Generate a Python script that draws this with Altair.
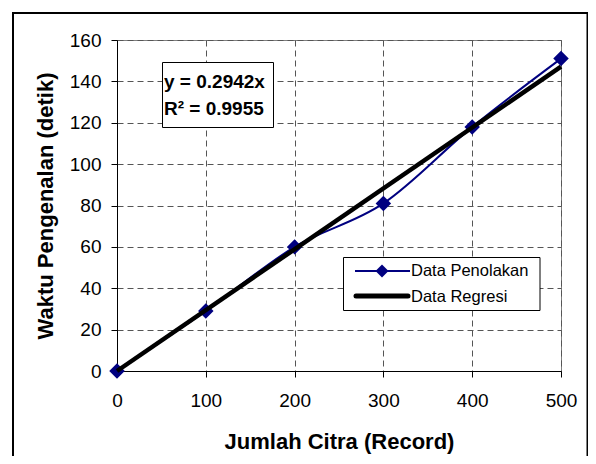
import altair as alt
import pandas as pd

# ---- data ----
records = [0, 100, 200, 300, 400, 500]
waktu = [0, 29, 60, 81, 118, 151]
reg_x = [0, 500]
reg_y = [0, 147.1]          # y = 0.2942x at the ends
x_ticks = [0, 100, 200, 300, 400, 500]
y_ticks = [0, 20, 40, 60, 80, 100, 120, 140, 160]
eq_lines = ["y = 0.2942x", "R² = 0.9955"]
legend_labels = ["Data Penolakan", "Data Regresi"]

FONT = "Liberation Sans"
NAVY = "#000080"

df = pd.DataFrame({"Record": records, "Waktu": waktu})
reg = pd.DataFrame({"Record": reg_x, "Waktu": reg_y})
one = alt.Data(values=[{"k": 1}])

X = alt.X(
    "Record:Q",
    scale=alt.Scale(domain=[0, 500], nice=False, zero=False),
    axis=alt.Axis(
        values=x_ticks, title="Jumlah Citra (Record)", format="d",
        labelBaseline="alphabetic", labelPadding=29, labelFlush=False,
        labelOverlap=False, titleY=77, titleBaseline="alphabetic",
    ),
)
Y = alt.Y(
    "Waktu:Q",
    scale=alt.Scale(domain=[0, 160], nice=False, zero=False),
    axis=alt.Axis(
        values=y_ticks, title="Waktu Pengenalan (detik)", format="d",
        labelPadding=10, labelFlush=False, labelOverlap=False,
        titleX=-65, titleBaseline="alphabetic",
    ),
)

frame = alt.Chart(one).mark_rect(fill=None, stroke="black", strokeWidth=2, clip=False).encode(
    x=alt.value(-104), x2=alt.value(470.5), y=alt.value(-27), y2=alt.value(432)
)

blue_line = alt.Chart(df).mark_line(color=NAVY, strokeWidth=2, interpolate="cardinal").encode(x=X, y=Y)
diamonds = alt.Chart(df).mark_point(shape="diamond", filled=True, color=NAVY, size=240, opacity=1).encode(x=X, y=Y)
reg_line = alt.Chart(reg).mark_line(color="black", strokeWidth=4.5).encode(x=X, y=Y)

# equation box
eq_box = alt.Chart(one).mark_rect(fill="white", stroke="black", strokeWidth=1).encode(
    x=alt.value(45.5), x2=alt.value(156.5), y=alt.value(22.5), y2=alt.value(87.5)
)
eq_t1 = alt.Chart(alt.Data(values=[{"t": eq_lines[0]}])).mark_text(
    align="left", baseline="alphabetic", font=FONT, fontSize=19, fontWeight="bold", color="black"
).encode(x=alt.value(47), y=alt.value(47.5), text="t:N")
eq_t2 = alt.Chart(alt.Data(values=[{"t": eq_lines[1]}])).mark_text(
    align="left", baseline="alphabetic", font=FONT, fontSize=19, fontWeight="bold", color="black"
).encode(x=alt.value(47), y=alt.value(75), text="t:N")

# legend
lg_box = alt.Chart(one).mark_rect(fill="white", stroke="black", strokeWidth=1).encode(
    x=alt.value(226.5), x2=alt.value(423), y=alt.value(217.5), y2=alt.value(270.5)
)
lg_r1 = alt.Chart(one).mark_rule(color=NAVY, strokeWidth=2).encode(
    x=alt.value(238), x2=alt.value(293), y=alt.value(231)
)
lg_d1 = alt.Chart(one).mark_point(shape="diamond", filled=True, color=NAVY, size=170, opacity=1).encode(
    x=alt.value(265), y=alt.value(231)
)
lg_r2 = alt.Chart(one).mark_rule(color="black", strokeWidth=5, strokeCap="round").encode(
    x=alt.value(239), x2=alt.value(291), y=alt.value(256)
)
lg_t1 = alt.Chart(alt.Data(values=[{"t": legend_labels[0]}])).mark_text(
    align="left", baseline="alphabetic", font=FONT, fontSize=16.5, color="black"
).encode(x=alt.value(294), y=alt.value(235.7), text="t:N")
lg_t2 = alt.Chart(alt.Data(values=[{"t": legend_labels[1]}])).mark_text(
    align="left", baseline="alphabetic", font=FONT, fontSize=16.5, color="black"
).encode(x=alt.value(294), y=alt.value(262.3), text="t:N")

chart = alt.layer(
    frame, blue_line, diamonds, reg_line,
    eq_box, eq_t1, eq_t2,
    lg_box, lg_r1, lg_d1, lg_r2, lg_t1, lg_t2,
).properties(
    width=444, height=331,
    autosize=alt.AutoSizeParams(type="none"),
    padding={"left": 109, "top": 32, "right": 27, "bottom": 85},
    background="white",
).configure_view(
    stroke="#808080", strokeWidth=1
).configure_axis(
    labelFont=FONT, labelFontSize=19, labelColor="black",
    titleFont=FONT, titleFontSize=22, titleFontWeight="bold", titleColor="black",
    domainColor="black", domainWidth=1, tickColor="black", tickSize=6, tickWidth=1,
    grid=True, gridColor="#555555", gridDash=[6, 4], gridWidth=1,
)

chart.save("out.html", embed_options={"renderer": "svg", "actions": False})
